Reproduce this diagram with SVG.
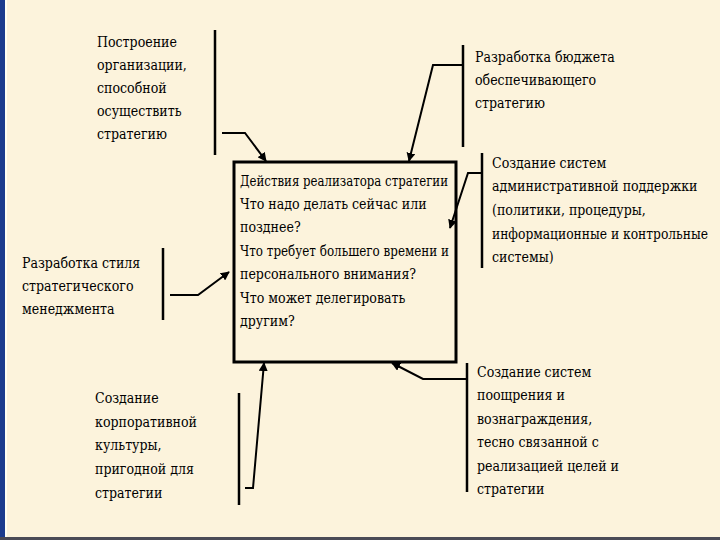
<svg xmlns="http://www.w3.org/2000/svg" width="720" height="540" viewBox="0 0 720 540">
<defs>
<style>
.t{font-family:'DejaVu Serif Condensed','DejaVu Serif','Liberation Serif',serif;font-size:14px;fill:#000}
.ln{stroke:#000;stroke-width:2;fill:none}
.br{stroke:#000;stroke-width:2.5;fill:none}
</style>
<marker id="ah" viewBox="0 0 10 10" refX="9" refY="5" markerWidth="9" markerHeight="9" markerUnits="userSpaceOnUse" orient="auto">
<path d="M0,0 L10,5 L0,10 z" fill="#000"/>
</marker>
</defs>
<rect x="0" y="0" width="720" height="540" fill="#FCF3DC"/>
<rect x="0" y="0" width="5" height="540" fill="#1C3C8E"/>
<rect x="5" y="0" width="2" height="540" fill="#FFFFF4"/>
<rect x="0" y="537" width="720" height="3" fill="#4A4A55"/>

<g id="center">
<rect x="234" y="162" width="222" height="200" fill="none" stroke="#000" stroke-width="3"/>
<text class="t" x="240" y="186" textLength="208" lengthAdjust="spacingAndGlyphs">Действия реализатора стратегии</text>
<text class="t" x="240" y="209">Что надо делать сейчас или</text>
<text class="t" x="240" y="232">позднее?</text>
<text class="t" x="240" y="256" textLength="209" lengthAdjust="spacingAndGlyphs">Что требует большего времени и</text>
<text class="t" x="240" y="279">персонального внимания?</text>
<text class="t" x="240" y="303">Что может делегировать</text>
<text class="t" x="240" y="326">другим?</text>
</g>

<g id="n-org">
<text class="t" x="97" y="47">Построение</text>
<text class="t" x="97" y="70">организации,</text>
<text class="t" x="97" y="93">способной</text>
<text class="t" x="97" y="116">осуществить</text>
<text class="t" x="97" y="139">стратегию</text>
<line class="br" x1="215" y1="30" x2="215" y2="155"/>
</g>

<g id="n-budget">
<text class="t" x="475" y="62">Разработка бюджета</text>
<text class="t" x="475" y="85">обеспечивающего</text>
<text class="t" x="475" y="108">стратегию</text>
<line class="br" x1="463" y1="45" x2="463" y2="147"/>
</g>

<g id="n-admin">
<text class="t" x="492" y="168">Создание систем</text>
<text class="t" x="492" y="191">административной поддержки</text>
<text class="t" x="492" y="215">(политики, процедуры,</text>
<text class="t" x="492" y="239" textLength="216" lengthAdjust="spacingAndGlyphs">информационные и контрольные</text>
<text class="t" x="492" y="262">системы)</text>
<line class="br" x1="482" y1="153" x2="482" y2="268"/>
</g>

<g id="n-style">
<text class="t" x="22" y="268">Разработка стиля</text>
<text class="t" x="22" y="291">стратегического</text>
<text class="t" x="22" y="314">менеджмента</text>
<line class="br" x1="163" y1="248" x2="163" y2="320"/>
</g>

<g id="n-culture">
<text class="t" x="95" y="403">Создание</text>
<text class="t" x="95" y="427">корпоративной</text>
<text class="t" x="95" y="450">культуры,</text>
<text class="t" x="95" y="474">пригодной для</text>
<text class="t" x="95" y="498">стратегии</text>
<line class="br" x1="239" y1="393" x2="239" y2="505"/>
</g>

<g id="n-reward">
<text class="t" x="477" y="377">Создание систем</text>
<text class="t" x="477" y="400">поощрения и</text>
<text class="t" x="477" y="424">вознаграждения,</text>
<text class="t" x="477" y="447">тесно связанной с</text>
<text class="t" x="477" y="471">реализацией целей и</text>
<text class="t" x="477" y="494">стратегии</text>
<line class="br" x1="467" y1="363" x2="467" y2="492"/>
</g>

<g id="connectors">
<polyline class="ln" points="222,133 245,133 266,161" marker-end="url(#ah)"/>
<polyline class="ln" points="463,65 433,65 409,161" marker-end="url(#ah)"/>
<polyline class="ln" points="482,173 468,173 450,228" marker-end="url(#ah)"/>
<polyline class="ln" points="170,295 198,295 229,272" marker-end="url(#ah)"/>
<polyline class="ln" points="245,488 253,488 264,363" marker-end="url(#ah)"/>
<polyline class="ln" points="467,379 423,379 392,363" marker-end="url(#ah)"/>
</g>
</svg>
